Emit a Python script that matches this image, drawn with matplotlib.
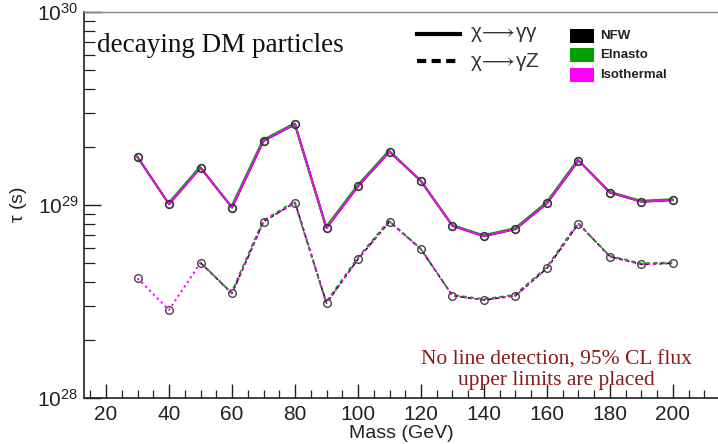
import numpy as np
import matplotlib
matplotlib.use('Agg')
import matplotlib.pyplot as plt
import matplotlib.transforms as mtransforms
from matplotlib.ticker import LogLocator, MultipleLocator, NullFormatter

# DM mass grid (GeV)
mass = [30, 40, 50, 60, 70, 80, 90, 100, 110, 120, 130, 140, 150, 160, 170, 180, 190, 200]

# lifetime limits (s), chi -> gamma gamma
tau_gg = [1.77e29, 1.01e29, 1.56e29, 0.97e29, 2.15e29, 2.62e29, 7.6e28, 1.25e29, 1.89e29,
          1.33e29, 7.8e28, 6.9e28, 7.5e28, 1.02e29, 1.70e29, 1.16e29, 1.04e29, 1.06e29]

# lifetime limits (s), chi -> gamma Z (isothermal profile extends to lower masses)
tau_gz_iso = [4.17e28, 2.86e28, 5.02e28, 3.48e28, 8.2e28, 1.03e29, 3.10e28, 5.25e28, 8.2e28,
              5.9e28, 3.39e28, 3.22e28, 3.39e28, 4.7e28, 8.0e28, 5.4e28, 4.93e28, 4.99e28]
tau_gz = [np.nan, np.nan] + tau_gz_iso[2:]

profiles = ['NFW', 'Elnasto', 'Isothermal']
profile_colors = ['black', '#00a000', '#ff00ff']

plt.rcParams['font.family'] = ['Liberation Sans', 'DejaVu Sans']
plt.rcParams['mathtext.default'] = 'regular'

fig = plt.figure(figsize=(7.18, 4.44), dpi=100)
ax = fig.add_axes([0.117, 0.1036, 0.883, 0.8694])

# small shift so the overlapping profiles stay visible
up = mtransforms.offset_copy(ax.transData, fig=fig, x=-0.6, y=0.9, units='dots')

# chi -> gamma gamma (solid)
ax.plot(mass, tau_gg, '-', color='black', lw=1.5, zorder=2)
ax.plot(mass, tau_gg, '-', color=profile_colors[1], lw=1.5, transform=up, zorder=3)
ax.plot(mass, tau_gg, '-', color=profile_colors[2], lw=1.3, zorder=4)
ax.plot(mass, tau_gg, 'o', mfc='none', mec='#333333', ms=5.5, mew=1.2, zorder=5)

# chi -> gamma Z (dashed / dotted)
ax.plot(mass, tau_gz, color='black', lw=1.1, linestyle=(0, (2.5, 2)), zorder=2)
ax.plot(mass, tau_gz, color=profile_colors[1], lw=1.2, linestyle=(2.2, (2.5, 2)),
        transform=up, zorder=3)
ax.plot(mass, tau_gz_iso, ':', color=profile_colors[2], lw=1.5, zorder=4)
ax.plot(mass, tau_gz_iso, 'o', mfc='none', mec='#444444', ms=5.5, mew=1.0, zorder=5)

ax.set_yscale('log')
ax.set_ylim(1e28, 1e30)
ax.set_xlim(13, 214.3)

ax.xaxis.set_major_locator(MultipleLocator(20))
ax.xaxis.set_minor_locator(MultipleLocator(5))
ax.yaxis.set_major_locator(LogLocator(base=10, numticks=5))
ax.yaxis.set_minor_locator(LogLocator(base=10, subs=np.arange(2, 10), numticks=20))
ax.yaxis.set_minor_formatter(NullFormatter())

ax.tick_params(which='both', direction='in', top=False, right=False,
               labelsize=15, colors='#222222')
ax.tick_params(axis='x', which='major', length=10, width=1.0, pad=5)
ax.tick_params(axis='x', which='minor', length=6, width=0.9)
ax.tick_params(axis='y', which='major', length=12, width=1.0, pad=4)
ax.tick_params(axis='y', which='minor', length=8, width=0.9)

for s in ['left', 'bottom']:
    ax.spines[s].set_color('#222222')
    ax.spines[s].set_linewidth(1.2)
ax.spines['top'].set_color('#888888')
ax.spines['top'].set_linewidth(1.0)
ax.spines['right'].set_visible(False)

ax.set_xlabel('Mass (GeV)', fontsize=14, color='#222222', labelpad=1)
ax.set_ylabel(r'$\tau$ (s)', fontsize=14, color='#222222', labelpad=6)

ax.text(0.02, 0.912, 'decaying DM particles', transform=ax.transAxes,
        family='Liberation Serif', fontsize=19.5, ha='left', va='center', color='#111111')

ax.text(0.745, 0.072, 'No line detection, 95% CL flux\nupper limits are placed',
        transform=ax.transAxes, family='Liberation Serif', fontsize=15.5,
        ha='center', va='center', color='#8b1a1a', linespacing=1.1)

# decay-channel key
fig.lines.append(plt.Line2D([417 / 718, 460 / 718], [1 - 34 / 444, 1 - 34 / 444],
                            transform=fig.transFigure, color='black', lw=3))
fig.lines.append(plt.Line2D([417 / 718, 460 / 718], [1 - 61 / 444, 1 - 61 / 444],
                            transform=fig.transFigure, color='black', lw=3,
                            linestyle=(0, (2.2, 1.3))))
fig.text(470 / 718, 1 - 34 / 444, r'$\chi\!\longrightarrow\!\gamma\gamma$',
         fontsize=15, color='#333333', va='center', ha='left')
fig.text(470 / 718, 1 - 62 / 444, r'$\chi\!\longrightarrow\!\gamma Z$',
         fontsize=15, color='#333333', va='center', ha='left')

# halo-profile key
for i, (name, col) in enumerate(zip(profiles, profile_colors)):
    yc = 36 + 19.5 * i
    fig.patches.append(plt.Rectangle((570 / 718, 1 - (yc + 7) / 444), 24 / 718, 14 / 444,
                                     transform=fig.transFigure, facecolor=col,
                                     edgecolor='none'))
    fig.text(600 / 718, 1 - yc / 444, name, fontsize=9.5, fontweight='bold',
             color='#222222', va='center', ha='left')

fig.savefig('out.png', dpi=100)
